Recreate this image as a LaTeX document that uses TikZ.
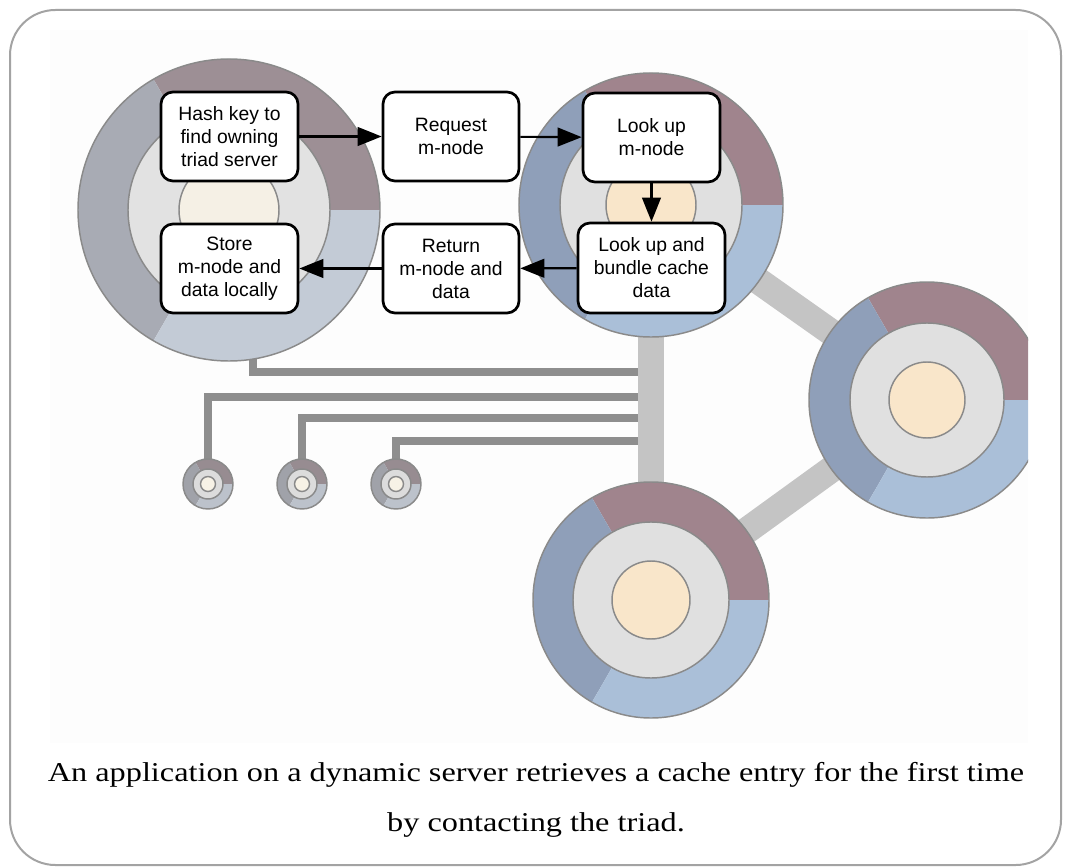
\documentclass[tikz,border=0pt]{standalone}
\usepackage{fontspec}
\setmainfont{Liberation Serif}
\newfontfamily\boxfont{Liberation Sans}
\usetikzlibrary{arrows.meta}

% palette of the faded (client) disks
\definecolor{fadeA}{HTML}{9D8F95}
\definecolor{fadeB}{HTML}{A8ABB4}
\definecolor{fadeC}{HTML}{C3CBD6}
\definecolor{fadeI}{HTML}{E2E2E2}
\definecolor{fadeK}{HTML}{F5F0E5}
% palette of the small dynamic servers
\definecolor{tinyA}{HTML}{978C91}
\definecolor{tinyB}{HTML}{A0A2A9}
\definecolor{tinyC}{HTML}{BCC2CB}
\definecolor{tinyI}{HTML}{DCDCDC}
\definecolor{tinyK}{HTML}{F7F2E6}
% palette of the triad servers
\definecolor{liveA}{HTML}{A0848D}
\definecolor{liveB}{HTML}{8F9FB9}
\definecolor{liveC}{HTML}{AABFD8}
\definecolor{liveI}{HTML}{E0E0E0}
\definecolor{liveK}{HTML}{F9E6CA}

\definecolor{ringgray}{HTML}{8A8A8A}
\definecolor{wiregray}{HTML}{8E8E8E}
\definecolor{linkgray}{HTML}{C4C4C4}
\definecolor{framegray}{HTML}{A3A3A3}
\definecolor{paper}{HTML}{FDFDFD}

% a server disk: x, y, outer radius, ring radius, core radius, palette
% (y axis points down, so the angles below run clockwise on the page)
\newcommand{\triaddisk}[6]{%
  \begin{scope}[shift={(#1,#2)}]
    \fill[#6A] (0,0) -- (240:#3) arc[start angle=240,end angle=360,radius=#3] -- cycle;
    \fill[#6B] (0,0) -- (120:#3) arc[start angle=120,end angle=240,radius=#3] -- cycle;
    \fill[#6C] (0,0) -- (0:#3) arc[start angle=0,end angle=120,radius=#3] -- cycle;
    \draw[ringline] (0,0) circle[radius=#3];
    \filldraw[ringline, fill=#6I] (0,0) circle[radius=#4];
    \filldraw[ringline, fill=#6K] (0,0) circle[radius=#5];
  \end{scope}}

\tikzset{
  frame/.style={draw=framegray, line width=1.5pt, rounded corners=34pt},
  stepbox/.style={draw=black, fill=white, line width=2pt, rounded corners=9pt,
    font=\boxfont\fontsize{14.5}{17.25}\selectfont, align=center, inner sep=0pt},
  flow/.style={-{Triangle[length=18pt,width=14pt]}, line width=1.6pt},
  wire/.style={draw=wiregray, line width=6pt, line join=miter},
  link/.style={draw=linkgray, line width=20pt},
  ringline/.style={draw=ringgray, line width=1.1pt},
  caption/.style={anchor=base, font=\fontsize{20.4}{24}\selectfont},
}

\begin{document}
\begin{tikzpicture}[x=0.75pt, y=-0.75pt]
\useasboundingbox (0,0) rectangle (1065,867);

% outer frame
\draw[frame] (10,10) rectangle (1061,865);

% disk centres and wire taps
\coordinate (srvA) at (229,210);
\coordinate (srvB) at (651,205);
\coordinate (srvC) at (927,400);
\coordinate (srvD) at (651,600);
\coordinate (dynA) at (208,484);
\coordinate (dynB) at (302,484);
\coordinate (dynC) at (396,484);
\coordinate (tap)  at (253,300);
\coordinate (bus1) at (651,372);
\coordinate (bus2) at (651,397);
\coordinate (bus3) at (651,418);
\coordinate (bus4) at (651,441);

\begin{scope}
  \clip (50,30) rectangle (1028,743);
  \fill[paper] (50,30) rectangle (1028,743);

  % network wiring
  \draw[wire] (tap)  |- (bus1);
  \draw[wire] (dynA) |- (bus2);
  \draw[wire] (dynB) |- (bus3);
  \draw[wire] (dynC) |- (bus4);

  % triad links
  \draw[link] (srvB) -- (srvD);
  \draw[link] (srvB) -- (srvC);
  \draw[link] (srvD) -- (srvC);

  % servers
  \triaddisk{229}{210}{151}{101}{50}{fade}
  \triaddisk{651}{205}{132}{91}{45}{live}
  \triaddisk{927}{400}{118}{77}{38}{live}
  \triaddisk{651}{600}{118}{78}{39}{live}
  \triaddisk{208}{484}{25}{15}{7.5}{tiny}
  \triaddisk{302}{484}{25}{15}{7.5}{tiny}
  \triaddisk{396}{484}{25}{15}{7.5}{tiny}
\end{scope}

% steps of the lookup
\node[stepbox, minimum width=102.75pt, minimum height=66.75pt] (hash)   at (229.5,136.5) {Hash key to\\find owning\\triad server};
\node[stepbox, minimum width=102pt,    minimum height=66.75pt] (req)    at (451,136.5)   {Request\\m-node};
\node[stepbox, minimum width=102.75pt, minimum height=66.75pt] (look)   at (651.5,137.5) {Look up\\m-node};
\node[stepbox, minimum width=110.25pt, minimum height=67.5pt]  (bundle) at (651.5,268)   {Look up and\\bundle cache\\data};
\node[stepbox, minimum width=102pt,    minimum height=66.75pt] (ret)    at (451,268.5)   {Return\\m-node and\\data};
\node[stepbox, minimum width=102.75pt, minimum height=66.75pt] (store)  at (229.5,268.5) {Store\\m-node and\\data locally};

\draw[flow] (hash) -- (req);
\draw[flow] (req) -- (look);
\draw[flow] (look) -- (bundle);
\draw[flow] (bundle) -- (ret);
\draw[flow] (ret) -- (store);

% caption
\node[caption] (capA) at (536,781) {\scalebox{1.187}[1]{An application on a dynamic server retrieves a cache entry for the first time}};
\node[caption] (capB) at (536,831) {\scalebox{1.187}[1]{by contacting the triad.}};
\end{tikzpicture}
\end{document}
